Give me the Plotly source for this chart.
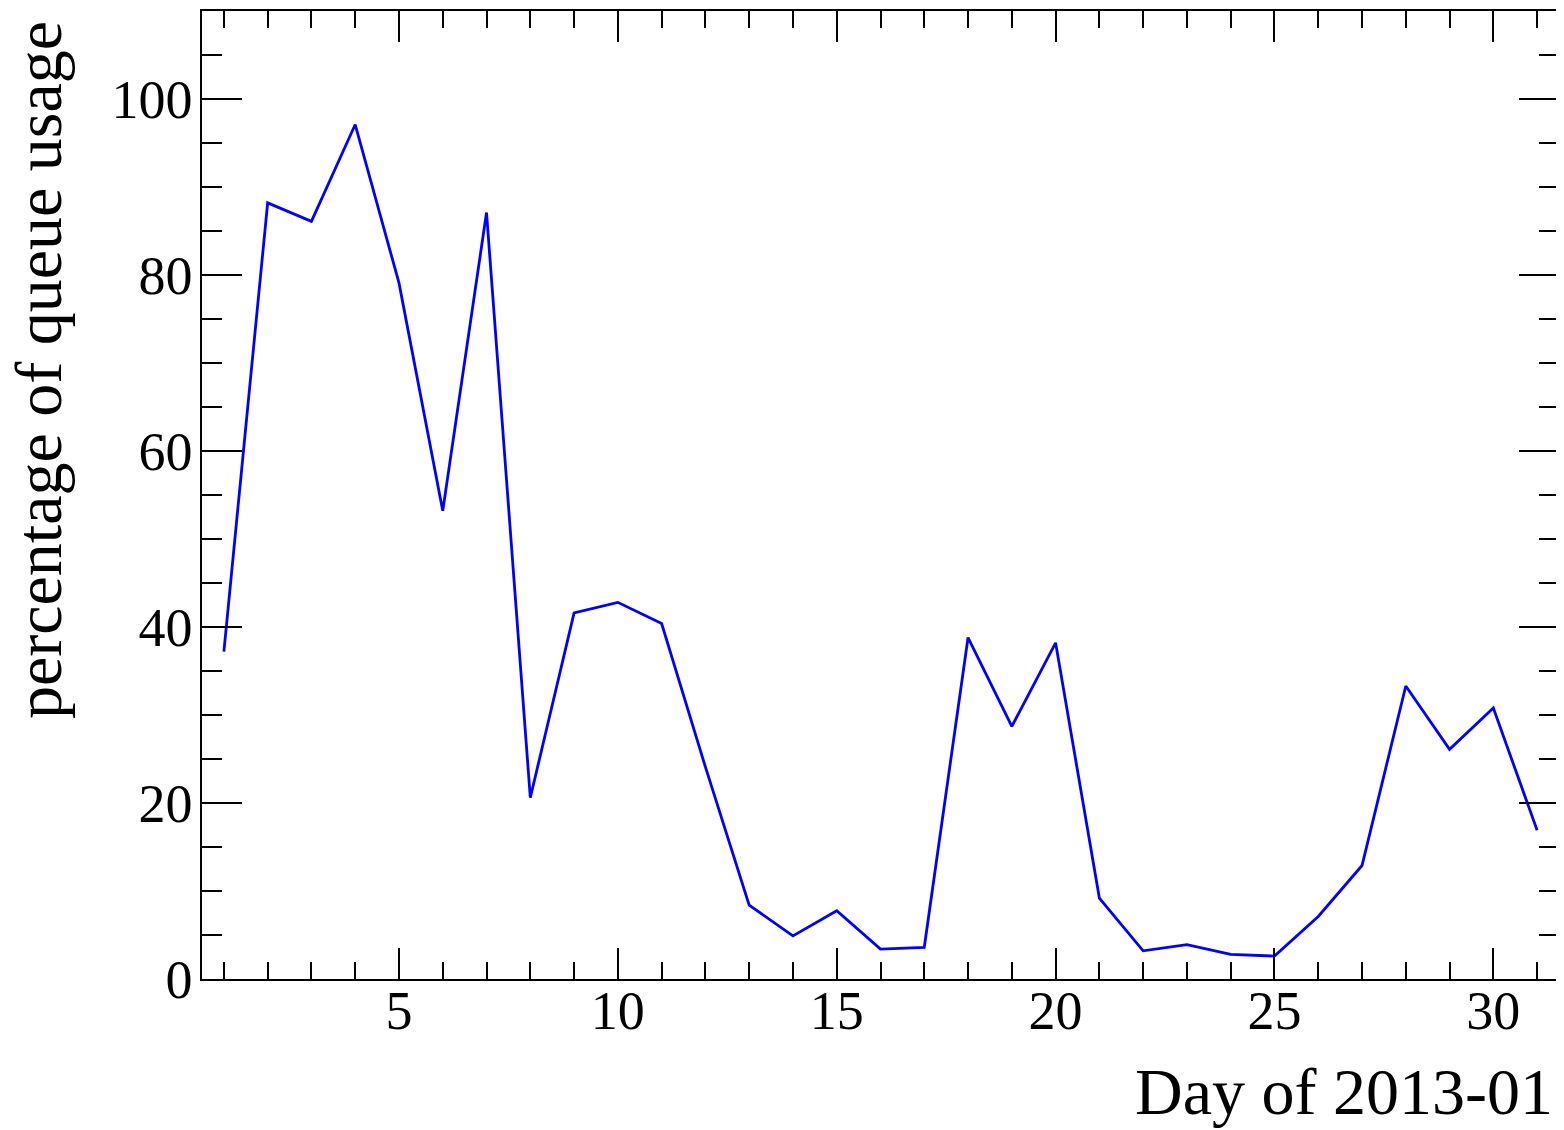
import plotly.graph_objects as go

days = list(range(1, 32))
usage = [37.2, 88.2, 86.1, 97.1, 79.1, 53.2, 87.1, 20.6, 41.6, 42.8,
         40.4, 24.1, 8.4, 4.9, 7.75, 3.4, 3.6, 38.8, 28.7, 38.2,
         9.2, 3.2, 3.9, 2.8, 2.6, 7.1, 12.9, 33.3, 26.1, 30.8, 16.9]

x_title = "Day of 2013-01"
y_title = "percentage of queue usage"

FONT = "Liberation Serif, Times New Roman, serif"

fig = go.Figure()
fig.add_trace(go.Scatter(x=days, y=usage, mode="lines",
                         line=dict(color="#0000ff", width=2.8),
                         showlegend=False, hoverinfo="skip"))

axis_common = dict(
    showgrid=False, zeroline=False, showline=True, linecolor="black",
    linewidth=1.5, mirror="ticks", ticks="inside", tickcolor="black",
    tickwidth=1.5, tickfont=dict(family=FONT, size=54, color="black"),
)

fig.update_xaxes(range=[0.5, 31.5], tick0=0, dtick=5, ticklen=31,
                 minor=dict(tick0=0, dtick=1, ticklen=17, ticks="inside",
                            tickcolor="black", tickwidth=1.5),
                 ticklabelstandoff=-17, **axis_common)
fig.update_yaxes(range=[0, 110], tick0=0, dtick=20, ticklen=40,
                 minor=dict(tick0=0, dtick=5, ticklen=20, ticks="inside",
                            tickcolor="black", tickwidth=1.5),
                 ticklabelstandoff=-3, **axis_common)

fig.add_annotation(text=x_title, xref="paper", yref="paper", x=1, y=0,
                   xanchor="right", yanchor="top", xshift=-4, yshift=-74,
                   showarrow=False, font=dict(family=FONT, size=66, color="black"))
fig.add_annotation(text=y_title, xref="paper", yref="paper", x=0, y=1,
                   xanchor="center", yanchor="top", xshift=-164, yshift=-8,
                   textangle=-90, showarrow=False,
                   font=dict(family=FONT, size=66, color="black"))

fig.update_layout(width=1556, height=1122, plot_bgcolor="white",
                  paper_bgcolor="white",
                  margin=dict(l=194, r=5, t=3, b=151, autoexpand=False))

fig.write_html("out.html")
